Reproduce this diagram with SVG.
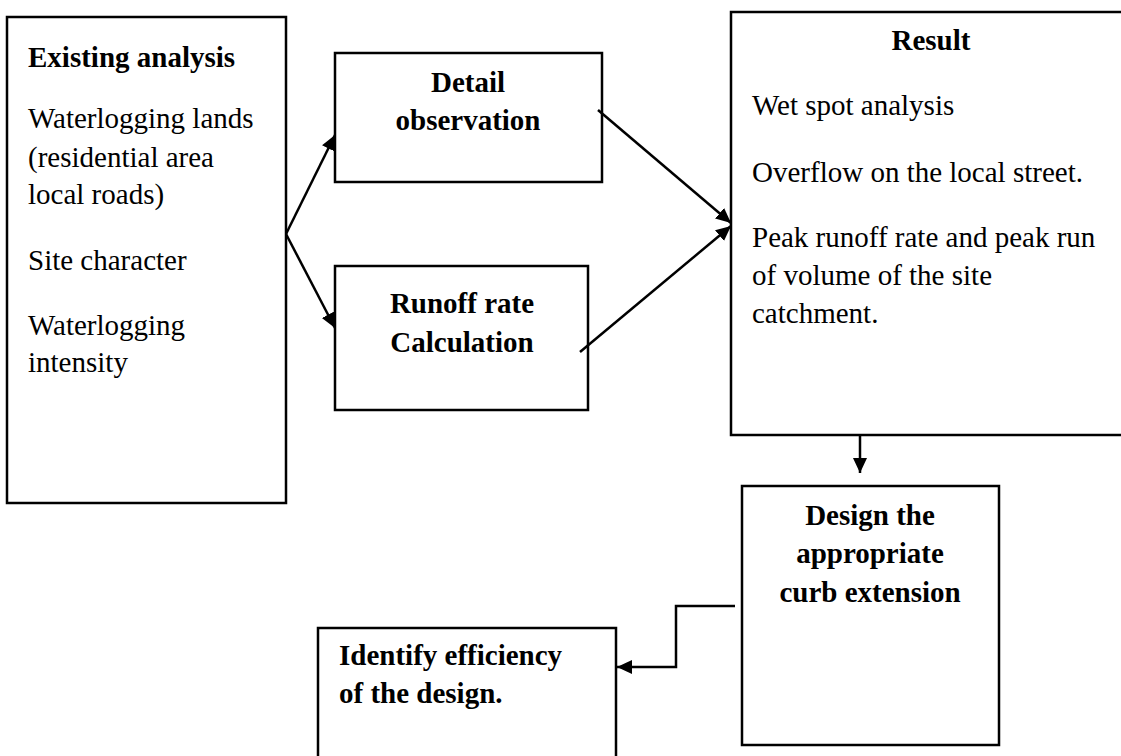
<svg xmlns="http://www.w3.org/2000/svg" width="1121" height="756" viewBox="0 0 1121 756">
<style>
.box{fill:#fff;stroke:#000;stroke-width:2.5}
.t{font-family:"Liberation Serif","Times New Roman",serif;font-size:29px;fill:#000}
.b{font-weight:bold}
.c{text-anchor:middle}
.ln{fill:none;stroke:#000;stroke-width:2.5}
</style>
<defs>
<marker id="ah" markerUnits="userSpaceOnUse" markerWidth="16" markerHeight="16" refX="15" refY="7" orient="auto">
<path d="M0,0 L15,7 L0,14 z" fill="#000"/>
</marker>
</defs>
<rect width="1121" height="756" fill="#fff"/>
<g id="existing">
<rect class="box" x="7" y="17" width="279" height="486"/>
<text class="t b" x="28" y="67">Existing analysis</text>
<text class="t" x="28" y="128">Waterlogging lands</text>
<text class="t" x="28" y="167">(residential area</text>
<text class="t" x="28" y="204">local roads)</text>
<text class="t" x="28" y="270">Site character</text>
<text class="t" x="28" y="335">Waterlogging</text>
<text class="t" x="28" y="372">intensity</text>
</g>
<g id="detail">
<rect class="box" x="335" y="53" width="267" height="129"/>
<text class="t b c" x="468" y="92">Detail</text>
<text class="t b c" x="468" y="130">observation</text>
</g>
<g id="runoff">
<rect class="box" x="335" y="266" width="253" height="144"/>
<text class="t b c" x="462" y="313">Runoff rate</text>
<text class="t b c" x="462" y="352">Calculation</text>
</g>
<g id="result">
<rect class="box" x="731" y="12" width="400" height="423"/>
<text class="t b c" x="931" y="50">Result</text>
<text class="t" x="752" y="115">Wet spot analysis</text>
<text class="t" x="752" y="182">Overflow on the local street.</text>
<text class="t" x="752" y="247">Peak runoff rate and peak run</text>
<text class="t" x="752" y="285">of volume of the site</text>
<text class="t" x="752" y="323">catchment.</text>
</g>
<g id="design">
<rect class="box" x="742" y="486" width="257" height="259"/>
<text class="t b c" x="870" y="525">Design the</text>
<text class="t b c" x="870" y="563">appropriate</text>
<text class="t b c" x="870" y="602">curb extension</text>
</g>
<g id="identify">
<rect class="box" x="318" y="628" width="298" height="140"/>
<text class="t b" x="339" y="665">Identify efficiency</text>
<text class="t b" x="339" y="703">of the design.</text>
</g>
<g id="connectors">
<line class="ln" x1="286" y1="234" x2="335" y2="135" marker-end="url(#ah)"/>
<line class="ln" x1="286" y1="234" x2="335" y2="328" marker-end="url(#ah)"/>
<line class="ln" x1="598" y1="110" x2="731" y2="223" marker-end="url(#ah)"/>
<line class="ln" x1="580" y1="352" x2="731" y2="226" marker-end="url(#ah)"/>
<line class="ln" x1="860" y1="435" x2="860" y2="473" marker-end="url(#ah)"/>
<path class="ln" d="M735,606 H676 V667 H617" marker-end="url(#ah)"/>
</g>
</svg>
